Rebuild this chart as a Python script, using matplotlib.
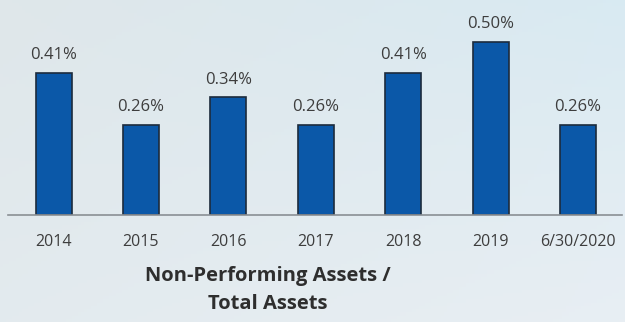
import numpy as np
import matplotlib.pyplot as plt

periods = ["2014", "2015", "2016", "2017", "2018", "2019", "6/30/2020"]
npa_ratio = [0.41, 0.26, 0.34, 0.26, 0.41, 0.50, 0.26]
value_labels = ["0.41%", "0.26%", "0.34%", "0.26%", "0.41%", "0.50%", "0.26%"]
title_lines = ["Non-Performing Assets /", "Total Assets"]

W, H, DPI = 625, 322, 100
fig = plt.figure(figsize=(W / DPI, H / DPI), dpi=DPI)

# pale backdrop: grey-blue on the left, clearer sky blue in the upper right
bg = fig.add_axes([0, 0, 1, 1], zorder=0)
gx, gy = np.meshgrid(np.linspace(0, 1, 200), np.linspace(0, 1, 100))
tl = np.array([0.875, 0.906, 0.918])
tr = np.array([0.850, 0.918, 0.950])
bl = np.array([0.890, 0.920, 0.935])
br = np.array([0.910, 0.935, 0.955])
gx, gy = gx[..., None], gy[..., None]
img = (1 - gy) * ((1 - gx) * tl + gx * tr) + gy * ((1 - gx) * bl + gx * br)
bg.imshow(img, aspect="auto", extent=[0, 1, 0, 1], origin="upper")
bg.set_axis_off()

# plotting area in pixel terms: baseline at y=215, spans x 8..622
base_px = 215
ax = fig.add_axes([8 / W, (H - base_px) / H, 614 / W, base_px / H], zorder=1)
ax.patch.set_alpha(0)

step = 87.4
x = np.arange(len(periods))
ax.bar(x, npa_ratio, width=36 / step, color="#0b58a8",
       edgecolor="#1c2b3c", linewidth=1.2, zorder=2)

ax.set_xlim(-45.5 / step, (622 - 53.5) / step)
ax.set_ylim(0, base_px / 346)

for xi, v, lab in zip(x, npa_ratio, value_labels):
    ax.annotate(lab, (xi, v), xytext=(0, 7), textcoords="offset points",
                ha="center", va="bottom", fontsize=12, color="#3d3d3d",
                family="Open Sans")

for side in ["top", "right", "left"]:
    ax.spines[side].set_visible(False)
ax.spines["bottom"].set_color("#8a8f94")
ax.spines["bottom"].set_linewidth(1.2)
ax.set_yticks([])
ax.set_xticks(x)
ax.set_xticklabels(periods, fontsize=11.5, color="#3d3d3d", family="Open Sans")
ax.tick_params(axis="x", length=0, pad=14)

fig.text(268 / W, 1 - 276 / H, title_lines[0], ha="center", va="center",
         fontsize=14.5, fontweight="bold", color="#2e2e2e", family="Open Sans")
fig.text(268 / W, 1 - 304 / H, title_lines[1], ha="center", va="center",
         fontsize=14.5, fontweight="bold", color="#2e2e2e", family="Open Sans")

fig.savefig("out.png", dpi=DPI)
